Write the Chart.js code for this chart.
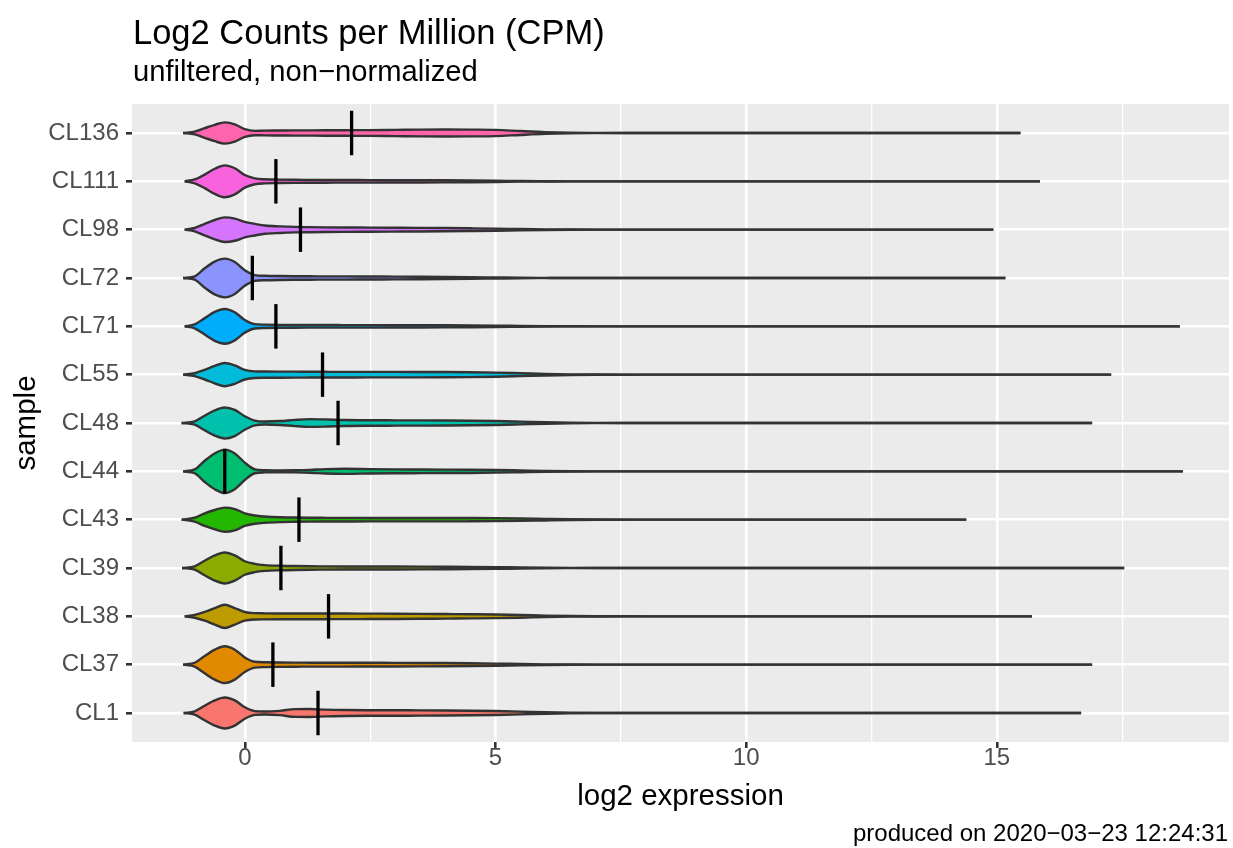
<!DOCTYPE html>
<html>
<head>
<meta charset="utf-8">
<script src="https://cdn.jsdelivr.net/npm/chart.js@4.4.0/dist/chart.umd.min.js"></script>
<style>
html, body { margin: 0; padding: 0; background: #fff; }
#wrap { width: 1233px; height: 848px; }
</style>
</head>
<body>
<div id="wrap"><canvas id="violins" width="1233" height="848"></canvas></div>
<script>
// samples, bottom to top
const samples = ['CL1', 'CL37', 'CL38', 'CL39', 'CL43', 'CL44', 'CL48', 'CL55', 'CL71', 'CL72', 'CL98', 'CL111', 'CL136'];
const colors = ['#F8766D', '#E18A00', '#BE9C00', '#8CAB00', '#24B700', '#00BE70', '#00C1AB', '#00BBDA', '#00ACFC', '#8B93FF', '#D575FE', '#F962DD', '#FF65AC'];
const medians = [1.46, 0.56, 1.67, 0.72, 1.08, -0.40, 1.86, 1.55, 0.62, 0.15, 1.11, 0.62, 2.13];
const lowEnd = [-1.22, -1.23, -1.20, -1.25, -1.26, -1.23, -1.26, -1.23, -1.20, -1.23, -1.20, -1.20, -1.23];
const highEnd = [16.68, 16.90, 15.70, 17.54, 14.39, 18.71, 16.90, 17.28, 18.65, 15.17, 14.93, 15.86, 15.47];

// shared x grid for the violin outlines (log2 expression)
const gridX = [-1.0, -0.8, -0.6, -0.4, -0.2, 0.0, 0.2, 0.4, 0.7, 1.0, 1.3, 1.6, 2.0, 2.5, 3.0, 3.5, 4.0, 4.5, 5.0, 5.5, 6.0, 6.5, 7.0, 8.0];

// half widths of each violin at gridX (category units)
const w_CL1   = [0.035, 0.15, 0.26, 0.32, 0.26, 0.12, 0.04, 0.03, 0.045, 0.08, 0.082, 0.07, 0.062, 0.058, 0.056, 0.055, 0.053, 0.048, 0.04, 0.028, 0.014, 0.005, 0.001, 0];
const w_CL37  = [0.04, 0.18, 0.31, 0.38, 0.31, 0.15, 0.06, 0.05, 0.045, 0.042, 0.041, 0.04, 0.04, 0.039, 0.038, 0.036, 0.033, 0.028, 0.022, 0.014, 0.007, 0.002, 0, 0];
const w_CL38  = [0.03, 0.09, 0.17, 0.24, 0.17, 0.09, 0.066, 0.062, 0.06, 0.06, 0.06, 0.059, 0.058, 0.056, 0.054, 0.051, 0.047, 0.043, 0.038, 0.028, 0.015, 0.006, 0.002, 0];
const w_CL39  = [0.035, 0.15, 0.26, 0.32, 0.26, 0.14, 0.085, 0.06, 0.047, 0.04, 0.036, 0.034, 0.032, 0.031, 0.03, 0.029, 0.027, 0.024, 0.019, 0.012, 0.006, 0.002, 0, 0];
const w_CL43  = [0.04, 0.13, 0.20, 0.25, 0.22, 0.13, 0.085, 0.065, 0.05, 0.044, 0.04, 0.038, 0.037, 0.036, 0.036, 0.036, 0.036, 0.034, 0.031, 0.025, 0.016, 0.008, 0.003, 0];
const w_CL44  = [0.04, 0.22, 0.37, 0.45, 0.37, 0.18, 0.04, 0.022, 0.019, 0.022, 0.03, 0.045, 0.052, 0.045, 0.04, 0.038, 0.036, 0.033, 0.027, 0.018, 0.009, 0.003, 0, 0];
const w_CL48  = [0.035, 0.15, 0.26, 0.32, 0.27, 0.14, 0.05, 0.03, 0.04, 0.065, 0.08, 0.075, 0.062, 0.057, 0.055, 0.054, 0.052, 0.048, 0.04, 0.028, 0.015, 0.006, 0.002, 0];
const w_CL55  = [0.03, 0.10, 0.18, 0.24, 0.19, 0.10, 0.068, 0.064, 0.063, 0.062, 0.06, 0.059, 0.058, 0.057, 0.057, 0.056, 0.054, 0.05, 0.043, 0.03, 0.016, 0.006, 0.002, 0];
const w_CL71  = [0.04, 0.17, 0.30, 0.36, 0.29, 0.13, 0.045, 0.035, 0.03, 0.028, 0.027, 0.027, 0.026, 0.026, 0.025, 0.024, 0.022, 0.019, 0.015, 0.009, 0.004, 0.001, 0, 0];
const w_CL72  = [0.035, 0.20, 0.34, 0.40, 0.33, 0.16, 0.06, 0.046, 0.04, 0.037, 0.035, 0.034, 0.033, 0.031, 0.029, 0.026, 0.022, 0.017, 0.011, 0.005, 0.002, 0, 0, 0];
const w_CL98  = [0.035, 0.12, 0.20, 0.255, 0.23, 0.16, 0.12, 0.085, 0.068, 0.057, 0.052, 0.048, 0.045, 0.043, 0.04, 0.037, 0.033, 0.028, 0.022, 0.013, 0.006, 0.002, 0, 0];
const w_CL111 = [0.04, 0.14, 0.26, 0.33, 0.27, 0.13, 0.06, 0.042, 0.036, 0.032, 0.03, 0.028, 0.027, 0.026, 0.025, 0.024, 0.022, 0.018, 0.013, 0.007, 0.003, 0, 0, 0];
const w_CL136 = [0.03, 0.10, 0.17, 0.22, 0.18, 0.08, 0.045, 0.05, 0.052, 0.054, 0.055, 0.056, 0.058, 0.06, 0.065, 0.07, 0.072, 0.07, 0.065, 0.04, 0.018, 0.006, 0.002, 0];
const widths = [w_CL1, w_CL37, w_CL38, w_CL39, w_CL43, w_CL44, w_CL48, w_CL55, w_CL71, w_CL72, w_CL98, w_CL111, w_CL136];

const xTicks = [0, 2.5, 5, 7.5, 10, 12.5, 15, 17.5];

const FONT = '"Liberation Sans", Arial, Helvetica, sans-serif';
Chart.defaults.font.family = FONT;

const datasets = [];
samples.forEach((s, i) => {
    const pos = i + 1;
    const xs = [lowEnd[i], ...gridX, highEnd[i]];
    const ws = [0, ...widths[i], 0];
    datasets.push({
        label: s + ' upper',
        data: xs.map((x, k) => ({x: x, y: pos + ws[k]})),
        borderColor: '#333333', borderWidth: 2.4, pointRadius: 0, fill: false,
        cubicInterpolationMode: 'monotone', order: 1
    });
    datasets.push({
        label: s,
        data: xs.map((x, k) => ({x: x, y: pos - ws[k]})),
        borderColor: '#333333', borderWidth: 2.4, pointRadius: 0, fill: '-1',
        backgroundColor: colors[i], cubicInterpolationMode: 'monotone', order: 1
    });
});
medians.forEach((m, i) => {
    datasets.push({
        label: samples[i] + ' median',
        data: [{x: m, y: i + 1 - 0.46}, {x: m, y: i + 1 + 0.46}],
        borderColor: '#000000', borderWidth: 3.3, pointRadius: 0, fill: false, order: 0
    });
});

const panelBg = {
    id: 'panelBg',
    beforeDraw(chart) {
        const {ctx, chartArea: a} = chart;
        ctx.save();
        ctx.fillStyle = '#EBEBEB';
        ctx.fillRect(a.left, a.top, a.right - a.left, a.bottom - a.top);
        ctx.restore();
    }
};

const labels = {
    id: 'labels',
    afterDraw(chart) {
        const {ctx, chartArea: a} = chart;
        ctx.save();
        ctx.fillStyle = '#000';
        ctx.textBaseline = 'alphabetic';
        ctx.textAlign = 'left';
        ctx.font = '34.5px ' + FONT;
        ctx.fillText('Log2 Counts per Million (CPM)', a.left + 1, 44);
        ctx.font = '29.2px ' + FONT;
        ctx.fillText('unfiltered, non\u2212normalized', a.left + 1, 81);
        ctx.textAlign = 'right';
        ctx.font = '24px ' + FONT;
        ctx.fillText('produced on 2020\u221203\u221223 12:24:31', a.right - 1, 841);
        ctx.restore();
    }
};

new Chart(document.getElementById('violins'), {
    type: 'line',
    data: {datasets: datasets},
    plugins: [panelBg, labels],
    options: {
        responsive: false,
        animation: false,
        events: [],
        layout: {padding: {top: 104, left: 5, right: 4, bottom: 26}},
        plugins: {legend: {display: false}, tooltip: {enabled: false}},
        scales: {
            x: {
                type: 'linear', min: -2.25, max: 19.63,
                afterBuildTicks(s) { s.ticks = xTicks.map(v => ({value: v})); },
                afterFit(s) { s.height = 848 - 26 - 742; },
                border: {display: false},
                grid: {
                    color: '#FFFFFF',
                    lineWidth: c => (c.tick && c.tick.value % 5 === 0) ? 2.6 : 1.3,
                    tickColor: c => (c.tick && c.tick.value % 5 === 0) ? '#333333' : 'rgba(0,0,0,0)',
                    tickLength: 6, tickWidth: 2.6
                },
                ticks: {
                    autoSkip: false, maxRotation: 0, padding: -4, color: '#4D4D4D',
                    font: {size: 24},
                    callback: v => (v % 5 === 0) ? String(v) : ''
                },
                title: {display: true, text: 'log2 expression', color: '#000', font: {size: 29.5}, padding: {top: 0, bottom: 7}}
            },
            y: {
                type: 'linear', min: 0.4, max: 13.6,
                afterBuildTicks(s) { s.ticks = samples.map((_, i) => ({value: i + 1})); },
                afterFit(s) { s.width = 127; },
                border: {display: false},
                grid: {color: '#FFFFFF', lineWidth: 2.6, tickColor: '#333333', tickLength: 6, tickWidth: 2.6},
                ticks: {
                    autoSkip: false, padding: 7, color: '#4D4D4D', font: {size: 24},
                    callback: v => samples[Math.round(v) - 1] || ''
                },
                title: {display: true, text: 'sample', color: '#000', font: {size: 29.5}, padding: {top: 4, bottom: 0}}
            }
        }
    }
});
</script>
</body>
</html>
